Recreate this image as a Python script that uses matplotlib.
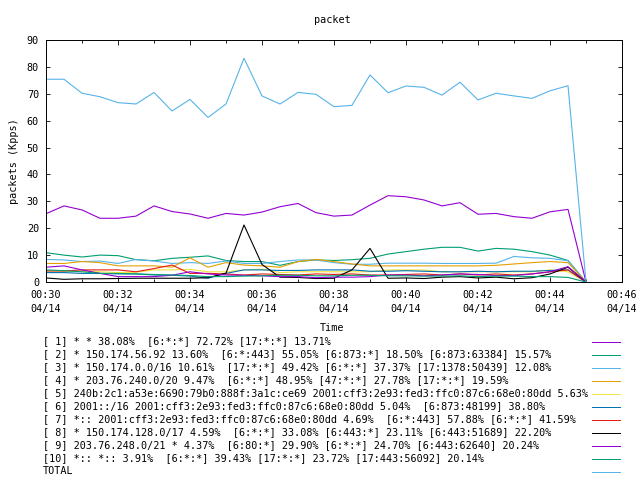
import matplotlib
matplotlib.use("Agg")
import matplotlib.pyplot as plt
import matplotlib.dates as mdates
from matplotlib.lines import Line2D
import numpy as np
import pandas as pd

plt.rcParams['font.family'] = ['DejaVu Sans Mono']

# ---- data -------------------------------------------------------------
times = pd.date_range('2024-04-14 00:30:00', periods=31, freq='30s')

s1 = [25.4, 28.3, 26.8, 23.7, 23.7, 24.5, 28.3, 26.2, 25.3, 23.7, 25.5, 24.9, 26.0, 28.0, 29.2,
      25.8, 24.5, 24.9, 28.6, 32.1, 31.7, 30.5, 28.3, 29.5, 25.2, 25.5, 24.3, 23.7, 26.1, 27.0, 0]
s2 = [10.9, 10.0, 9.3, 10.0, 9.8, 8.3, 7.9, 8.8, 9.2, 9.7, 8.0, 7.6, 7.6, 6.2, 7.6,
      8.2, 8.0, 8.3, 8.8, 10.4, 11.3, 12.2, 12.9, 12.9, 11.5, 12.5, 12.2, 11.3, 10.0, 8.0, 0]
s3 = [8.4, 8.2, 7.6, 7.8, 6.9, 8.4, 7.8, 6.9, 7.2, 6.9, 7.8, 6.9, 6.9, 7.6, 8.2,
      8.2, 7.2, 6.6, 6.6, 7.0, 7.0, 7.0, 6.9, 6.9, 6.9, 7.0, 9.5, 9.0, 8.8, 7.9, 0]
s4 = [6.9, 6.9, 7.6, 7.2, 6.0, 6.0, 6.0, 5.5, 9.0, 5.5, 7.2, 6.3, 6.0, 5.5, 7.6,
      8.4, 7.6, 6.7, 6.0, 6.0, 6.0, 6.0, 6.0, 6.0, 6.0, 6.2, 6.7, 7.2, 7.6, 7.2, 0]
s5 = [4.2, 4.0, 4.0, 3.8, 3.5, 3.6, 4.5, 4.5, 4.7, 3.8, 3.8, 4.5, 4.8, 3.5, 3.8,
      3.8, 3.8, 3.8, 3.8, 4.5, 4.5, 4.5, 3.8, 3.8, 3.8, 3.8, 3.8, 3.8, 4.5, 3.8, 0]
s6 = [3.5, 3.5, 3.2, 3.2, 3.0, 3.0, 2.6, 2.5, 2.2, 1.4, 3.2, 4.5, 4.5, 4.3, 4.3,
      4.5, 4.5, 4.5, 4.0, 4.0, 4.2, 4.0, 3.8, 3.8, 4.0, 3.8, 4.0, 4.0, 4.3, 4.5, 0]
s7 = [4.1, 4.1, 4.5, 4.5, 4.5, 3.8, 5.0, 6.3, 3.2, 3.2, 3.0, 2.6, 3.0, 2.8, 2.6,
      3.0, 2.8, 3.0, 2.6, 2.6, 2.8, 3.0, 2.6, 3.0, 2.6, 3.0, 2.6, 3.0, 3.8, 4.5, 0]
s8 = [1.5, 1.0, 1.2, 1.2, 1.3, 1.4, 1.4, 1.4, 1.4, 1.6, 3.3, 21.2, 6.5, 1.8, 1.7,
      1.3, 1.4, 4.5, 12.5, 1.4, 1.5, 1.3, 1.8, 2.0, 1.5, 1.8, 1.2, 1.6, 3.0, 5.5, 0]
s9 = [5.5, 6.0, 4.5, 3.2, 2.0, 2.0, 2.0, 2.5, 3.8, 3.0, 2.6, 2.5, 2.3, 2.0, 2.0,
      1.6, 1.8, 1.8, 2.0, 2.6, 2.6, 2.3, 2.6, 3.0, 2.8, 2.4, 2.4, 3.0, 3.8, 5.7, 0]
s10 = [4.5, 4.2, 3.8, 3.2, 3.2, 3.0, 2.8, 2.6, 2.4, 2.0, 2.0, 2.2, 2.3, 2.5, 2.5,
       2.3, 2.3, 2.5, 2.5, 2.3, 2.3, 2.2, 2.2, 2.3, 2.0, 2.2, 2.2, 2.0, 2.0, 1.7, 0]
total = [75.4, 75.4, 70.2, 68.9, 66.7, 66.2, 70.5, 63.6, 67.9, 61.2, 66.2, 83.2, 69.2, 66.2, 70.5,
         69.8, 65.2, 65.7, 77.0, 70.4, 72.9, 72.4, 69.5, 74.3, 67.7, 70.2, 69.2, 68.3, 71.1, 73.0, 0]

labels = [
    "[ 1] * * 38.08%  [6:*:*] 72.72% [17:*:*] 13.71%",
    "[ 2] * 150.174.56.92 13.60%  [6:*:443] 55.05% [6:873:*] 18.50% [6:873:63384] 15.57%",
    "[ 3] * 150.174.0.0/16 10.61%  [17:*:*] 49.42% [6:*:*] 37.37% [17:1378:50439] 12.08%",
    "[ 4] * 203.76.240.0/20 9.47%  [6:*:*] 48.95% [47:*:*] 27.78% [17:*:*] 19.59%",
    "[ 5] 240b:2c1:a53e:6690:79b0:888f:3a1c:ce69 2001:cff3:2e93:fed3:ffc0:87c6:68e0:80dd 5.63%",
    "[ 6] 2001::/16 2001:cff3:2e93:fed3:ffc0:87c6:68e0:80dd 5.04%  [6:873:48199] 38.80%",
    "[ 7] *:: 2001:cff3:2e93:fed3:ffc0:87c6:68e0:80dd 4.69%  [6:*:443] 57.88% [6:*:*] 41.59%",
    "[ 8] * 150.174.128.0/17 4.59%  [6:*:*] 33.08% [6:443:*] 23.11% [6:443:51689] 22.20%",
    "[ 9] 203.76.248.0/21 * 4.37%  [6:80:*] 29.90% [6:*:*] 24.70% [6:443:62640] 20.24%",
    "[10] *:: *:: 3.91%  [6:*:*] 39.43% [17:*:*] 23.72% [17:443:56092] 20.14%",
    "TOTAL",
]
colors = ['#9400D3', '#009E73', '#56B4E9', '#E69F00', '#F0E442', '#0072B2',
          '#E51E10', '#000000', '#9400D3', '#009E73', '#56B4E9']
series = [s1, s2, s3, s4, s5, s6, s7, s8, s9, s10, total]

# ---- figure -----------------------------------------------------------
W, H = 640, 480
fig = plt.figure(figsize=(6.4, 4.8), dpi=100)
ax = fig.add_axes([46 / W, 1 - 282 / H, (622 - 46) / W, (282 - 40) / H])

LW = 0.8
for vals, c in zip(series, colors):
    ax.plot(times, vals, color=c, lw=LW, antialiased=True)

ax.set_ylim(0, 90)
ax.set_xlim(pd.Timestamp('2024-04-14 00:30:00'), pd.Timestamp('2024-04-14 00:46:00'))
ax.set_yticks(np.arange(0, 91, 10))
ax.xaxis.set_major_locator(mdates.MinuteLocator(byminute=range(0, 60, 2)))
ax.xaxis.set_minor_locator(mdates.MinuteLocator())
ax.xaxis.set_major_formatter(mdates.DateFormatter('%H:%M\n%m/%d'))

fs = 7.3
ax.tick_params(axis='both', which='both', direction='in', top=True, right=True,
               width=0.6, colors='black', labelsize=fs)
ax.tick_params(axis='x', which='major', length=3.6, pad=6)
ax.tick_params(axis='x', which='minor', length=2.0)
ax.tick_params(axis='y', which='major', length=3.0, pad=5)
for lbl in ax.get_xticklabels():
    lbl.set_linespacing(1.45)
for sp in ax.spines.values():
    sp.set_linewidth(0.7)

fig.text(332 / W, 1 - 20 / H, 'packet', ha='center', va='center', fontsize=fs)
fig.text(14 / W, 1 - 161 / H, 'packets (Kpps)', ha='center', va='center',
         rotation=90, fontsize=fs)
fig.text(332 / W, 1 - 328 / H, 'Time', ha='center', va='center', fontsize=fs)

# legend (gnuplot style: text left, sample at right)
for k, (lab, c) in enumerate(zip(labels, colors)):
    y = 1 - (341 + 13 * k) / H
    fig.text(43 / W, y, lab, ha='left', va='center', fontsize=fs)
    yl = 1 - (341.5 + 13 * k) / H
    fig.add_artist(Line2D([592 / W, 620 / W], [yl, yl], transform=fig.transFigure,
                          color=c, lw=0.72, antialiased=False))

fig.savefig('out.png', dpi=100)
